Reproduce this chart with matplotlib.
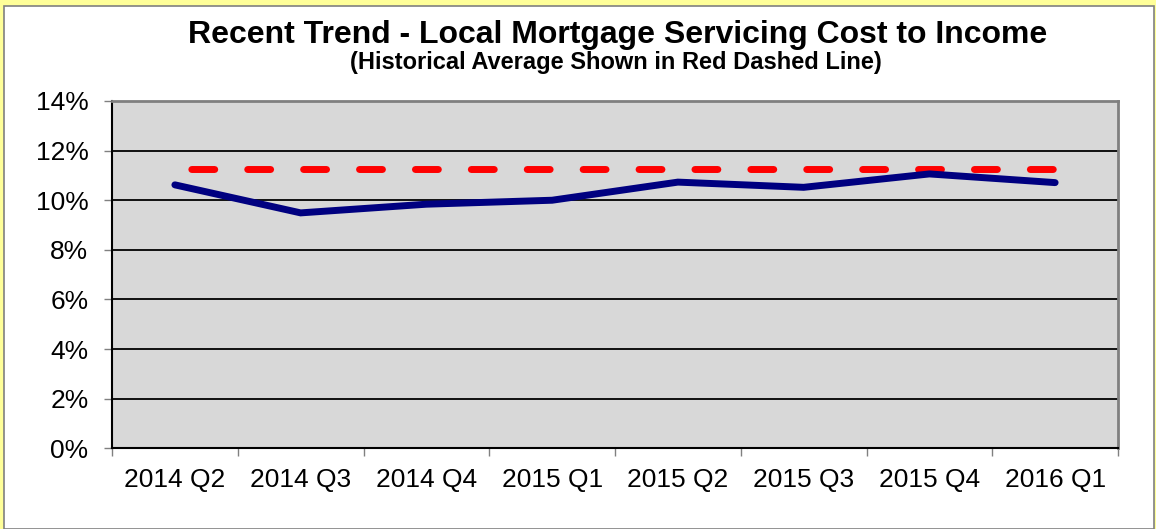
import matplotlib.pyplot as plt
from matplotlib.patches import Rectangle
from matplotlib.ticker import FixedLocator

quarters = ['2014 Q2', '2014 Q3', '2014 Q4', '2015 Q1', '2015 Q2', '2015 Q3', '2015 Q4', '2016 Q1']
cost_to_income = [10.62, 9.49, 9.84, 10.0, 10.73, 10.52, 11.06, 10.71]
historical_avg = [11.25] * len(quarters)
y_ticks = [0, 2, 4, 6, 8, 10, 12, 14]

plt.rcParams['font.family'] = ['Liberation Sans', 'DejaVu Sans']

fig = plt.figure(figsize=(11.56, 5.29), dpi=100, facecolor='#FFFF99')
# white chart area with thin grey border
fig.patches.append(Rectangle((4 / 1156, 0), 1150 / 1156, 523 / 529, transform=fig.transFigure,
                             facecolor='white', edgecolor='#808080', linewidth=1.2, zorder=-10))

ax = fig.add_axes([112 / 1156, 1 - 448.3 / 529, 1006 / 1156, 347.3 / 529])
ax.set_facecolor('#D8D8D8')

x = range(len(quarters))
ax.plot(x, historical_avg, color='#FF0000', linewidth=5, linestyle=(5.7, (3.3, 4.75)),
        dash_capstyle='round', zorder=3)
ax.plot(x, cost_to_income, color='#000080', linewidth=5, solid_capstyle='round',
        solid_joinstyle='miter', zorder=4)

ax.set_xlim(-0.5, len(quarters) - 0.5)
ax.set_ylim(0, 14)
ax.set_yticks(y_ticks)
ax.set_yticklabels([f'{v}%' for v in y_ticks])
ax.yaxis.grid(True, color='black', linewidth=1.3)
ax.set_axisbelow(True)

# tick marks between categories, labels at centers
ax.xaxis.set_major_locator(FixedLocator([i - 0.5 for i in range(len(quarters) + 1)]))
ax.xaxis.set_major_formatter(plt.NullFormatter())
ax.xaxis.set_minor_locator(FixedLocator(list(x)))
ax.set_xticklabels(quarters, minor=True)
ax.tick_params(axis='x', which='major', length=6, width=1, color='#808080', direction='out')
ax.tick_params(axis='x', which='minor', length=0, pad=14, labelsize=19)
ax.tick_params(axis='y', length=6, width=1, color='#808080', direction='out', pad=11, labelsize=19)

for side in ['left', 'bottom']:
    ax.spines[side].set_color('black')
    ax.spines[side].set_linewidth(1.5)
for side in ['top', 'right']:
    ax.spines[side].set_color('#808080')
    ax.spines[side].set_linewidth(2)

fig.text(0.534, 1 - 35 / 529, 'Recent Trend - Local Mortgage Servicing Cost to Income',
         ha='center', va='center', fontsize=23, fontweight='bold')
fig.text(0.533, 1 - 62 / 529, '(Historical Average Shown in Red Dashed Line)',
         ha='center', va='center', fontsize=17, fontweight='bold')

fig.savefig('out.png', dpi=100, facecolor=fig.get_facecolor())
